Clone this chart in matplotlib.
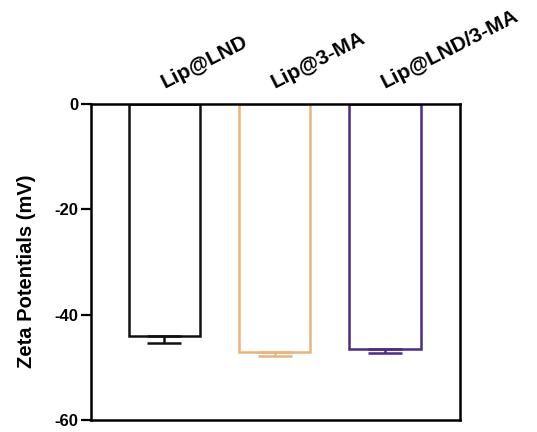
import numpy as np
import matplotlib.pyplot as plt

plt.rcParams['font.family'] = ['Liberation Sans', 'DejaVu Sans']
plt.rcParams['font.weight'] = 'bold'

groups = ['Lip@LND', 'Lip@3-MA', 'Lip@LND/3-MA']
zeta = [-44.0, -47.1, -46.5]
err = [1.4, 0.7, 0.8]
colors = ['#111111', '#E8B47C', '#4A2A8C']

fig = plt.figure(figsize=(5.37, 4.32), dpi=100)
ax = fig.add_axes([0.1695, 0.0278, 0.687, 0.7315])

x = np.arange(len(groups))
ax.bar(x, zeta, width=0.645, facecolor='none', edgecolor=colors, linewidth=1.8)
for xi, v, e, c in zip(x, zeta, err, colors):
    ax.errorbar(xi, v, yerr=[[e], [0]], fmt='none', ecolor=c, elinewidth=1.8,
                capsize=12, capthick=1.8)

ax.set_xlim(-0.665, 2.68)
ax.set_ylim(-60, 0)
ax.set_yticks([0, -20, -40, -60])
ax.set_yticklabels(['0', '-20', '-40', '-60'], fontsize=12, fontweight='bold')
ax.set_xticks([])
ax.tick_params(axis='y', direction='out', length=7, width=1.6, pad=2)
for s in ax.spines.values():
    s.set_linewidth(1.8)
ax.set_ylabel('Zeta Potentials (mV)', fontsize=14.5, fontweight='bold')
ax.yaxis.set_label_coords(-0.15, 0.47)

for xi, g in zip(x, groups):
    ax.text(xi + 0.0, 1.05, g, transform=ax.get_xaxis_transform(), rotation=27,
            rotation_mode='anchor', ha='left', va='baseline', fontsize=15, fontweight='bold')

fig.savefig('out.png', dpi=100)
